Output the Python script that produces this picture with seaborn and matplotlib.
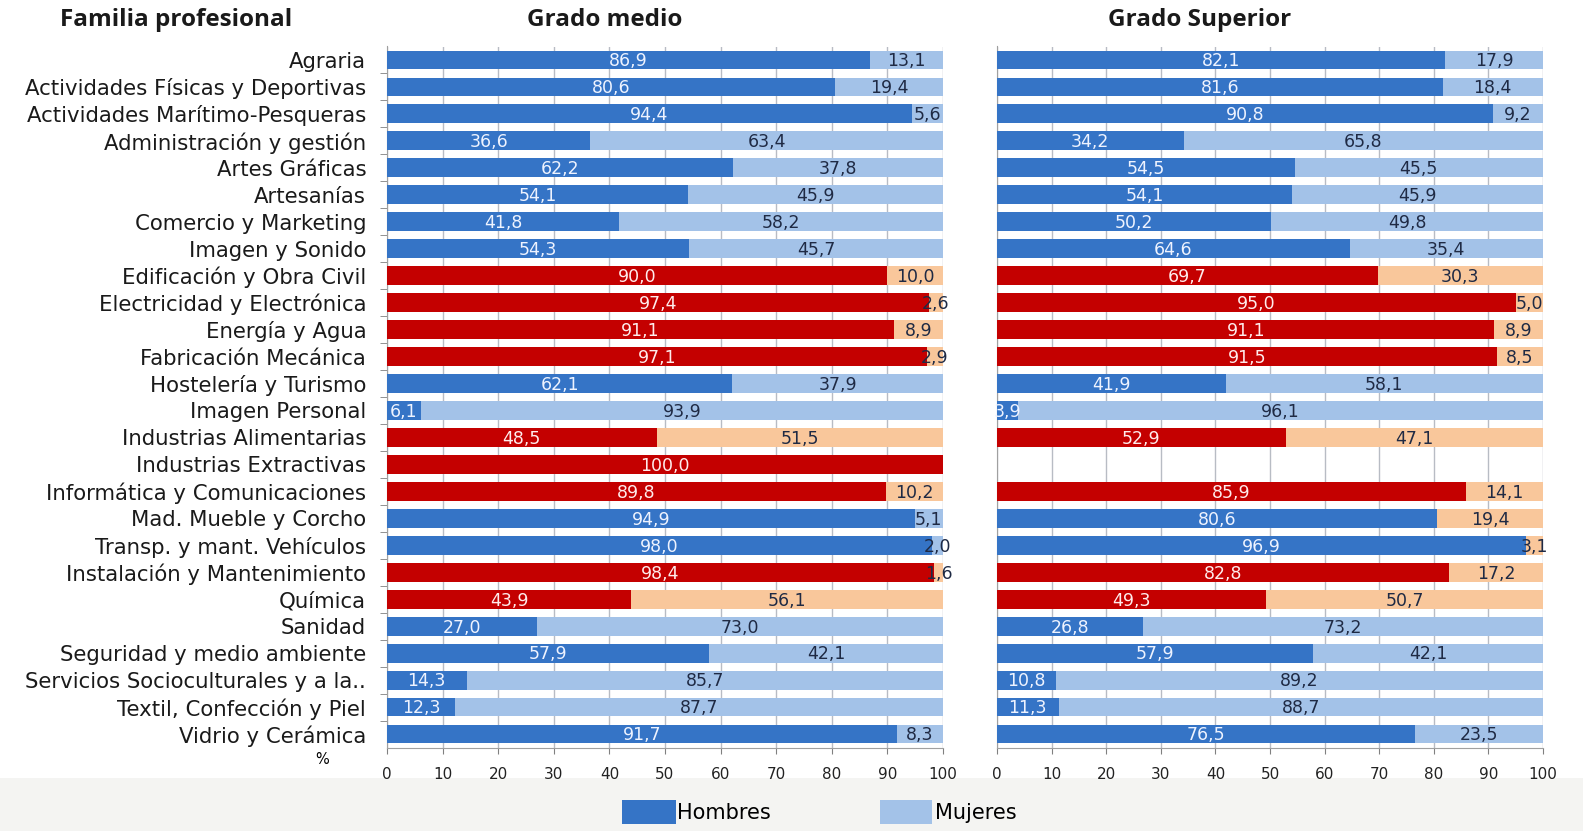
import matplotlib
matplotlib.use("Agg")
import matplotlib.pyplot as plt
import seaborn as sns
import numpy as np
import pandas as pd
from matplotlib.patches import Rectangle

categories = ["Agraria", "Actividades Físicas y Deportivas", "Actividades Marítimo-Pesqueras",
              "Administración y gestión", "Artes Gráficas", "Artesanías", "Comercio y Marketing",
              "Imagen y Sonido", "Edificación y Obra Civil", "Electricidad y Electrónica",
              "Energía y Agua", "Fabricación Mecánica", "Hostelería y Turismo", "Imagen Personal",
              "Industrias Alimentarias", "Industrias Extractivas", "Informática y Comunicaciones",
              "Mad. Mueble y Corcho", "Transp. y mant. Vehículos", "Instalación y Mantenimiento",
              "Química", "Sanidad", "Seguridad y medio ambiente", "Servicios Socioculturales y a la..",
              "Textil, Confección y Piel", "Vidrio y Cerámica"]

medio_hombres = [86.9, 80.6, 94.4, 36.6, 62.2, 54.1, 41.8, 54.3, 90.0, 97.4, 91.1, 97.1, 62.1, 6.1,
                 48.5, 100.0, 89.8, 94.9, 98.0, 98.4, 43.9, 27.0, 57.9, 14.3, 12.3, 91.7]
medio_mujeres = [13.1, 19.4, 5.6, 63.4, 37.8, 45.9, 58.2, 45.7, 10.0, 2.6, 8.9, 2.9, 37.9, 93.9,
                 51.5, 0.0, 10.2, 5.1, 2.0, 1.6, 56.1, 73.0, 42.1, 85.7, 87.7, 8.3]
sup_hombres = [82.1, 81.6, 90.8, 34.2, 54.5, 54.1, 50.2, 64.6, 69.7, 95.0, 91.1, 91.5, 41.9, 3.9,
               52.9, np.nan, 85.9, 80.6, 96.9, 82.8, 49.3, 26.8, 57.9, 10.8, 11.3, 76.5]
sup_mujeres = [17.9, 18.4, 9.2, 65.8, 45.5, 45.9, 49.8, 35.4, 30.3, 5.0, 8.9, 8.5, 58.1, 96.1,
               47.1, np.nan, 14.1, 19.4, 3.1, 17.2, 50.7, 73.2, 42.1, 89.2, 88.7, 23.5]

# colour group per row: "b" = blue pair, "r" = red pair, "bp" = blue men / peach women
medio_group = ["b"] * 8 + ["r"] * 4 + ["b", "b", "r", "r", "r", "b", "b", "r", "r"] + ["b"] * 5
sup_group = ["b"] * 8 + ["r"] * 4 + ["b", "b", "r", "r", "r", "bp", "bp", "r", "r"] + ["b"] * 5

BLUE, LBLUE, RED, PEACH = "#3574c6", "#a3c2e8", "#c40000", "#f9c79b"
men_col = {"b": BLUE, "r": RED, "bp": BLUE}
wom_col = {"b": LBLUE, "r": PEACH, "bp": PEACH}

W, H = 1583, 831
fig = plt.figure(figsize=(W / 100, H / 100), dpi=100)
fig.patch.set_facecolor("white")
fig.patches.append(Rectangle((0, 0), 1, 1 - 778 / H, transform=fig.transFigure,
                             facecolor="#f4f4f2", edgecolor="none", zorder=-10))

ax_bottom = 1 - 747.5 / H
ax_h = 701 / H
ax1 = fig.add_axes([387 / W, ax_bottom, 556 / W, ax_h])
ax2 = fig.add_axes([997 / W, ax_bottom, 546 / W, ax_h])

FONT = "DejaVu Sans"
TFONT = "Open Sans"

def draw(ax, hombres, mujeres, groups):
    df = pd.DataFrame({"cat": categories, "h": hombres, "m": mujeres})
    df["tot"] = df["h"] + df["m"]
    wpal = {c: wom_col[g] for c, g in zip(categories, groups)}
    mpal = {c: men_col[g] for c, g in zip(categories, groups)}
    sns.barplot(data=df, x="tot", y="cat", hue="cat", palette=wpal, order=categories,
                hue_order=categories, legend=False, width=0.7, ax=ax, saturation=1, zorder=3)
    sns.barplot(data=df, x="h", y="cat", hue="cat", palette=mpal, order=categories,
                hue_order=categories, legend=False, width=0.7, ax=ax, saturation=1, zorder=3)
    for i, (hv, mv) in enumerate(zip(hombres, mujeres)):
        if not np.isnan(hv):
            ax.text(hv / 2, i + 0.05, f"{hv:.1f}".replace(".", ","), ha="center", va="center",
                    fontsize=12.5, color="#eef3ff" if groups[i] != "r" else "#ffecec",
                    family=FONT, zorder=5)
        if not np.isnan(mv) and mv > 0:
            ax.text(hv + mv / 2, i + 0.05, f"{mv:.1f}".replace(".", ","), ha="center",
                    va="center", fontsize=12.5, color="#1f2a44", family=FONT, zorder=5)
    ax.set_xlim(0, 100)
    ax.set_ylim(25.5, -0.5)
    ax.set_xticks(range(0, 101, 10))
    ax.set_xticklabels([str(v) for v in range(0, 101, 10)], family=FONT, fontsize=11,
                       color="#222222")
    ax.xaxis.grid(True, color="#b8bcc4", linewidth=1, zorder=0)
    ax.set_axisbelow(True)
    ax.set_xlabel("")
    ax.set_ylabel("")
    ax.set_facecolor("white")
    for s in ["top", "right"]:
        ax.spines[s].set_visible(False)
    for s in ["left", "bottom"]:
        ax.spines[s].set_color("#a0a0a0")
    ax.tick_params(axis="x", length=4, color="#808080", pad=10)

draw(ax1, medio_hombres, medio_mujeres, medio_group)
draw(ax2, sup_hombres, sup_mujeres, sup_group)

ax1.set_yticks(range(len(categories)))
ax1.set_yticklabels(categories, family=FONT, fontsize=15.3, color="#1a1a1a")
ax1.tick_params(axis="y", length=0, pad=15)
ax1.set_yticks(np.arange(0.5, 25, 1), minor=True)
ax1.tick_params(axis="y", which="minor", length=5, color="#808080")
ax2.set_yticks([])

fig.text(605 / W, 1 - 20 / H, "Grado medio", fontsize=17.5, fontweight="bold", family=TFONT,
         ha="center", va="center", color="#1a1a1a")
fig.text(1200 / W, 1 - 20 / H, "Grado Superior", fontsize=17.5, fontweight="bold", family=TFONT,
         ha="center", va="center", color="#1a1a1a")
fig.text(60 / W, 1 - 20 / H, "Familia profesional", fontsize=17.5, fontweight="bold",
         family=TFONT, va="center", ha="left", color="#1a1a1a")
fig.text(322 / W, 1 - 760 / H, "%", fontsize=10.5, family=FONT, ha="center", va="center")

# legend
fig.patches.append(Rectangle((622 / W, 1 - 824 / H), 54 / W, 24 / H, transform=fig.transFigure,
                             facecolor=BLUE, edgecolor="none"))
fig.text(677 / W, 1 - 813 / H, "Hombres", fontsize=15, family=FONT, va="center", ha="left")
fig.patches.append(Rectangle((880 / W, 1 - 824 / H), 52 / W, 24 / H, transform=fig.transFigure,
                             facecolor=LBLUE, edgecolor="none"))
fig.text(935 / W, 1 - 813 / H, "Mujeres", fontsize=15, family=FONT, va="center", ha="left")

fig.savefig("out.png", dpi=100)
